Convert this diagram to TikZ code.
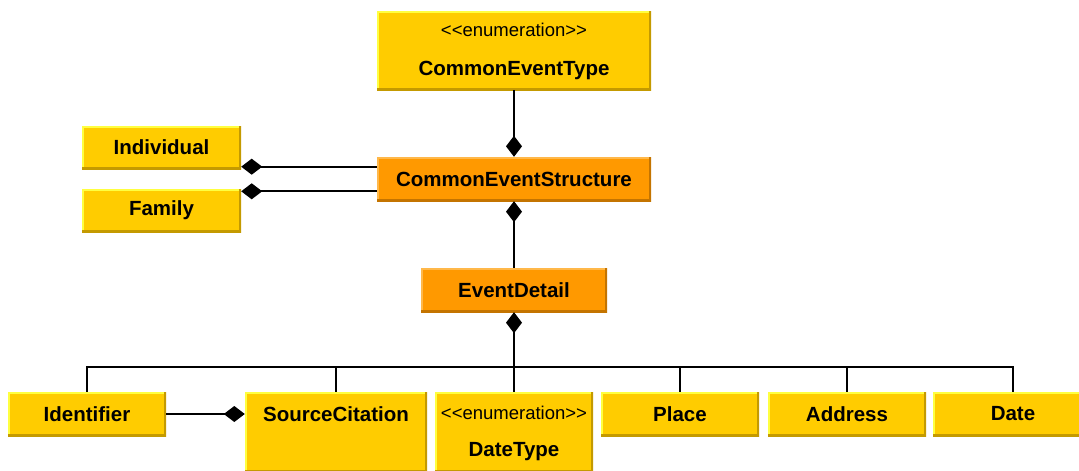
\documentclass[tikz,border=0pt]{standalone}
\usepackage{fontspec}
\setmainfont{Liberation Sans}
% plain family without TeX ligatures, so that << stays as two characters
\newfontfamily\stereofont{Liberation Sans}
\usetikzlibrary{arrows.meta,calc}

\definecolor{boxyellow}{HTML}{FFCC00}
\definecolor{yellowlight}{HTML}{FFFF40}
\definecolor{yellowdark}{HTML}{C49A00}
\definecolor{boxorange}{HTML}{FF9900}
\definecolor{orangelight}{HTML}{FFB84A}
\definecolor{orangedark}{HTML}{C47400}

\tikzset{
  bevelbox/.style n args={3}{
    rectangle, inner sep=0pt, fill=#1,
    path picture={
      \draw[#2, line width=4pt]
        (path picture bounding box.south west) -- (path picture bounding box.north west)
        -- (path picture bounding box.north east);
      \draw[#3, line width=5pt]
        (path picture bounding box.north east) -- (path picture bounding box.south east)
        -- (path picture bounding box.south west);
    }
  },
  classbox/.style={bevelbox={boxyellow}{yellowlight}{yellowdark},
    font=\fontsize{20.5}{24}\selectfont\bfseries},
  corebox/.style={bevelbox={boxorange}{orangelight}{orangedark},
    font=\fontsize{20.5}{24}\selectfont\bfseries},
  boldtext/.style={inner sep=0pt, font=\fontsize{20.5}{24}\selectfont\bfseries},
  stereotext/.style={inner sep=0pt, font=\stereofont\fontsize{18.5}{22}\selectfont},
  link/.style={draw=black, line width=2pt},
  compo/.style={link, -{Diamond[length=21pt,width=16pt]}},
}

\begin{document}
\begin{tikzpicture}[x=1pt,y=-1pt]
\useasboundingbox (0,0) rectangle (1079,471);

% upper part
\node[classbox, minimum width=274pt, minimum height=79pt] (cet) at (514,50.5) {};
\node[stereotext] (cetstereo) at (514,30) {<<enumeration>>};
\node[boldtext] (cetname) at (514,70) {CommonEventType};

\node[corebox, minimum width=274pt, minimum height=44pt] (ces) at (514,179) {CommonEventStructure};
\node[classbox, minimum width=159pt, minimum height=43pt] (ind) at (161.5,147.5) {Individual};
\node[classbox, minimum width=159pt, minimum height=43pt] (fam) at (161.5,210.5) {Family};
\node[corebox, minimum width=186pt, minimum height=44pt] (ed) at (514,290) {EventDetail};

% lower row
\node[classbox, minimum width=158pt, minimum height=44pt] (idf) at (87,414) {Identifier};
\node[classbox, minimum width=182pt, minimum height=80pt] (src) at (336,432) {};
\node[boldtext] (srcname) at (336,414) {SourceCitation};
\node[classbox, minimum width=158pt, minimum height=80pt] (dt) at (514,432) {};
\node[stereotext] (dtstereo) at (514,413) {<<enumeration>>};
\node[boldtext] (dtname) at (514,452) {DateType};
\node[classbox, minimum width=158pt, minimum height=44pt] (place) at (680,414) {Place};
\node[classbox, minimum width=158pt, minimum height=44pt] (addr) at (847,414) {Address};
\node[classbox, minimum width=160pt, minimum height=44pt] (date) at (1013,414) {Date};

\coordinate (bus) at (514,367);

% compositions
\draw[compo] (cet.south) -- (ces.north);
\draw[compo] (ed.north) -- (ces.south);
\draw[compo] (ces.west |- {$(ind.south east)+(0,-2.5)$}) -- ($(ind.south east)+(0,-2.5)$);
\draw[compo] (ces.west |- {$(fam.north east)+(0,2.5)$}) -- ($(fam.north east)+(0,2.5)$);
\draw[compo] (dt.north) -- (ed.south);
\draw[compo] (idf.east) -- (idf.east -| src.west);

% branches from the bus
\draw[link] (idf.north) |- (bus) -| (date.north);
\draw[link] (src.north) -- (src.north |- bus);
\draw[link] (place.north) -- (place.north |- bus);
\draw[link] (addr.north) -- (addr.north |- bus);
\end{tikzpicture}
\end{document}
